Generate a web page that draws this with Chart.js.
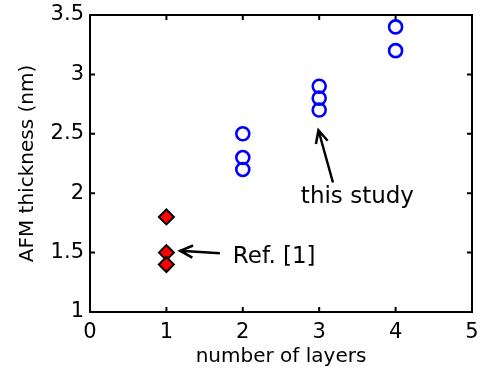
<!DOCTYPE html>
<html>
<head>
<meta charset="utf-8">
<script src="https://cdn.jsdelivr.net/npm/chart.js@4.4.0/dist/chart.umd.min.js"></script>
<style>
  html, body { margin: 0; padding: 0; background: #fff; }
  #wrap { width: 483px; height: 372px; }
</style>
</head>
<body>
<div id="wrap"><canvas id="afmChart" width="483" height="372"></canvas></div>
<script>
// data
var studyLayers = [2, 2, 2, 3, 3, 3, 4, 4];
var studyThickness = [2.5, 2.3, 2.2, 2.9, 2.8, 2.7, 3.4, 3.2];
var refLayers = [1, 1, 1];
var refThickness = [1.8, 1.5, 1.4];

var xTicks = [0, 1, 2, 3, 4, 5];
var yTicks = [1, 1.5, 2, 2.5, 3, 3.5];

// annotation labels, placed in data units
var studyNote = { text: 'this study', x: 3.5, y: 1.97, from: [3.18, 2.09], to: [2.99, 2.53] };
var refNote = { text: 'Ref. [1]', x: 1.87, y: 1.46, from: [1.70, 1.495], to: [1.18, 1.515] };

var font = 'DejaVu Sans';

function toPoints(xs, ys) {
    return xs.map(function (x, i) { return { x: x, y: ys[i] }; });
}

function arrow(ctx, x1, y1, x2, y2) {
    var ang = Math.atan2(y2 - y1, x2 - x1);
    var head = 14;
    ctx.beginPath();
    ctx.moveTo(x1, y1);
    ctx.lineTo(x2, y2);
    ctx.moveTo(x2 - head * Math.cos(ang - 0.45), y2 - head * Math.sin(ang - 0.45));
    ctx.lineTo(x2, y2);
    ctx.lineTo(x2 - head * Math.cos(ang + 0.45), y2 - head * Math.sin(ang + 0.45));
    ctx.stroke();
}

// box, inward ticks and the two notes
var framePlugin = {
    id: 'frame',
    afterDatasetsDraw: function (chart) {
        var ctx = chart.ctx;
        var a = chart.chartArea;
        var xs = chart.scales.x, ys = chart.scales.y;
        ctx.save();
        ctx.strokeStyle = '#000';
        ctx.lineWidth = 2;
        ctx.strokeRect(a.left, a.top, a.right - a.left, a.bottom - a.top);
        ctx.beginPath();
        xTicks.forEach(function (t) {
            var px = xs.getPixelForValue(t);
            ctx.moveTo(px, a.bottom); ctx.lineTo(px, a.bottom - 5);
            ctx.moveTo(px, a.top); ctx.lineTo(px, a.top + 5);
        });
        yTicks.forEach(function (t) {
            var py = ys.getPixelForValue(t);
            ctx.moveTo(a.left, py); ctx.lineTo(a.left + 5, py);
            ctx.moveTo(a.right, py); ctx.lineTo(a.right - 5, py);
        });
        ctx.stroke();

        ctx.fillStyle = '#000';
        ctx.font = '23px "' + font + '"';
        ctx.textBaseline = 'middle';
        ctx.lineWidth = 2.5;
        [studyNote, refNote].forEach(function (n, i) {
            ctx.textAlign = i === 0 ? 'center' : 'left';
            ctx.fillText(n.text, xs.getPixelForValue(n.x), ys.getPixelForValue(n.y));
            arrow(ctx, xs.getPixelForValue(n.from[0]), ys.getPixelForValue(n.from[1]),
                xs.getPixelForValue(n.to[0]), ys.getPixelForValue(n.to[1]));
        });
        ctx.restore();
    }
};

var ctx = document.getElementById('afmChart').getContext('2d');
var chart = new Chart(ctx, {
    type: 'scatter',
    data: {
        datasets: [{
            label: 'this study',
            data: toPoints(studyLayers, studyThickness),
            pointStyle: 'circle',
            pointRadius: 6.5,
            pointBorderWidth: 2.6,
            borderColor: '#0000ff',
            backgroundColor: 'rgba(0,0,0,0)'
        }, {
            label: 'Ref. [1]',
            data: toPoints(refLayers, refThickness),
            pointStyle: 'rectRot',
            pointRadius: 7.5,
            pointBorderWidth: 2,
            borderColor: '#000',
            backgroundColor: '#ff0000'
        }]
    },
    options: {
        responsive: false,
        animation: false,
        events: [],
        layout: { padding: { left: 0, right: 11, top: 15, bottom: 0 } },
        plugins: { legend: { display: false }, tooltip: { enabled: false } },
        scales: {
            x: {
                min: 0, max: 5,
                afterFit: function (s) { s.height = 60; },
                afterBuildTicks: function (s) { s.ticks = xTicks.map(function (v) { return { value: v }; }); },
                grid: { display: false },
                border: { display: false },
                ticks: { color: '#000', padding: 0, font: { family: font, size: 21 }, maxRotation: 0 },
                title: { display: true, text: 'number of layers', color: '#000',
                    font: { family: font, size: 20 }, padding: { top: 0, bottom: 3 } }
            },
            y: {
                min: 1, max: 3.5,
                afterFit: function (s) { s.width = 90; },
                afterBuildTicks: function (s) { s.ticks = yTicks.map(function (v) { return { value: v }; }); },
                grid: { display: false },
                border: { display: false },
                ticks: { color: '#000', padding: -2, font: { family: font, size: 21 },
                    callback: function (v) { return String(v); } },
                title: { display: true, text: 'AFM thickness (nm)', color: '#000',
                    font: { family: font, size: 20 }, padding: { top: 16, bottom: 0 } }
            }
        }
    },
    plugins: [framePlugin]
});
</script>
</body>
</html>
